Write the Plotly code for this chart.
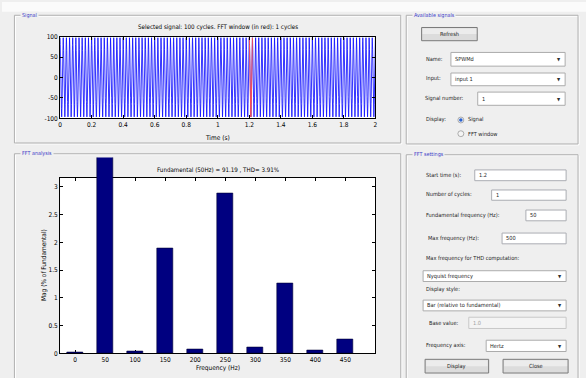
import numpy as np
import plotly.graph_objects as go

W, H = 586, 378

# ---- FFT analysis result (magnitudes in % of fundamental) ----
freqs = [0, 50, 100, 150, 200, 250, 300, 350, 400, 450]
mags = [0.02, 100, 0.04, 1.90, 0.08, 2.88, 0.11, 1.27, 0.05, 0.26]
fundamental_peak = 91.19
thd_pct = 3.91
f0 = 50
n_cycles = 100
fft_start = 1.2
fft_cycles = 1

# ---- tick definitions ----
time_ticks = [0, 0.2, 0.4, 0.6, 0.8, 1.0, 1.2, 1.4, 1.6, 1.8, 2.0]
time_tick_text = ["0", "0.2", "0.4", "0.6", "0.8", "1", "1.2", "1.4", "1.6", "1.8", "2"]
sig_ticks = [-100, -50, 0, 50, 100]
sig_tick_text = ["-100", "-50", "0", "50", "100"]
freq_ticks = [0, 50, 100, 150, 200, 250, 300, 350, 400, 450]
mag_ticks = [0, 0.5, 1, 1.5, 2, 2.5, 3]
mag_tick_text = ["0", "0.5", "1", "1.5", "2", "2.5", "3"]

# ---- GUI texts ----
signal_title = f"Selected signal: {n_cycles} cycles. FFT window (in red): {fft_cycles} cycles"
fft_title = f"Fundamental ({f0}Hz) = {fundamental_peak} , THD= {thd_pct}%"

FONT = "DejaVu Sans Condensed, Liberation Sans Narrow, Liberation Sans, Arial, sans-serif"
BG = "#efefef"
PANEL_BLUE = "#4040c8"
TXT = "#1e1e1e"
LBL = 5.6


def X(px):
    return px / W


def Y(py):
    return 1 - py / H


# time signal rebuilt from its harmonic content
t = np.linspace(0, n_cycles / f0, 20001)
sig = np.full_like(t, fundamental_peak * mags[0] / 100)
for f, m in zip(freqs[1:], mags[1:]):
    sig += fundamental_peak * m / 100 * np.cos(2 * np.pi * f * t)
win = (t >= fft_start) & (t <= fft_start + fft_cycles / f0)

fig = go.Figure()
fig.add_trace(go.Scatter(x=t, y=sig, mode="lines", line=dict(color="#1010ff", width=0.85),
                         xaxis="x", yaxis="y", hoverinfo="skip", showlegend=False))
fig.add_trace(go.Scatter(x=t[win], y=sig[win], mode="lines", line=dict(color="#ff5050", width=1),
                         xaxis="x", yaxis="y", hoverinfo="skip", showlegend=False))
# frame subplot for the spectrum (axes box only)
fig.add_trace(go.Scatter(x=[None], y=[None], xaxis="x2", yaxis="y2", showlegend=False))
# spectrum bars (own subplot so the fundamental can rise above the box)
fig.add_trace(go.Bar(x=freqs, y=mags, width=26, xaxis="x3", yaxis="y3",
                     marker=dict(color="#000080", line=dict(color="#000030", width=0.6)),
                     showlegend=False, hoverinfo="skip"))

ax_left, ax_right = 58.5, 376
sig_top, sig_bot = 33.3, 116.7
fft_top, fft_bot = 177.3, 357
bar_top = 156.7
mag_max = 3.17

tick_font = dict(family=FONT, size=6.5, color="#000")
common = dict(showline=True, linecolor="#000", linewidth=1, mirror="ticks", ticks="inside",
              ticklen=3, tickcolor="#000", showgrid=False, zeroline=False, tickfont=tick_font)

fig.update_layout(
    width=W, height=H, margin=dict(l=0, r=0, t=0, b=0),
    paper_bgcolor=BG, plot_bgcolor="rgba(0,0,0,0)", bargap=0,
    xaxis=dict(domain=[X(ax_left), X(ax_right)], range=[0, 2], tickvals=time_ticks,
               ticktext=time_tick_text, anchor="y", **common),
    yaxis=dict(domain=[Y(sig_bot), Y(sig_top)], range=[-100, 100], tickvals=sig_ticks,
               ticktext=sig_tick_text, anchor="x", **common),
    xaxis2=dict(domain=[X(ax_left), X(ax_right)], range=[-25, 500], tickvals=freq_ticks,
                anchor="y2", **common),
    yaxis2=dict(domain=[Y(fft_bot), Y(fft_top)], range=[0, mag_max], tickvals=mag_ticks,
                ticktext=mag_tick_text, anchor="x2", **common),
    xaxis3=dict(domain=[X(ax_left), X(ax_right)], range=[-25, 500], visible=False, anchor="y3"),
    yaxis3=dict(domain=[Y(fft_bot), Y(bar_top)],
                range=[0, mag_max * (fft_bot - bar_top) / (fft_bot - fft_top)],
                visible=False, anchor="x3"),
)

shapes = []
annotations = []


def rect(x0, y0, x1, y1, fill=None, line="#a0a0a0", lw=1, layer="below"):
    shapes.append(dict(type="rect", xref="paper", yref="paper", x0=X(x0), x1=X(x1),
                       y0=Y(y0), y1=Y(y1), fillcolor=fill or "rgba(0,0,0,0)",
                       line=dict(color=line, width=lw), layer=layer))


def text(x, y, s, size=LBL, color=TXT, anchor="left", bg=None, angle=0):
    annotations.append(dict(x=X(x), y=Y(y), xref="paper", yref="paper", text=s, showarrow=False,
                            xanchor=anchor, yanchor="middle", textangle=angle,
                            font=dict(family=FONT, size=size, color=color),
                            bgcolor=bg or "rgba(0,0,0,0)", borderpad=0))


def panel(x0, y0, x1, y1, title):
    rect(x0 + 1, y0 + 1, x1 + 1, y1 + 1, line="#ffffff")
    rect(x0, y0, x1, y1, line="#b0b0b0")
    text(x0 + 6, y0, "\u2009" + title + "\u2009", size=5.4, color=PANEL_BLUE, bg=BG)


def textbox(x0, y0, x1, y1, s, enabled=True):
    rect(x0, y0, x1, y1, fill="#ffffff" if enabled else "#f4f4f4",
         line="#abadb3" if enabled else "#c8c8c8")
    text(x0 + 3, (y0 + y1) / 2, s, color=TXT if enabled else "#a0a0a0")


def dropdown(x0, y0, x1, y1, s):
    rect(x0, y0, x1, y1, fill="#ffffff", line="#acacac")
    text(x0 + 3, (y0 + y1) / 2, s)
    text(x1 - 6, (y0 + y1) / 2 + 0.5, "\u25BC", size=4.5, color="#303030", anchor="center")


def button(x0, y0, x1, y1, s):
    rect(x0, y0, x1, y1, fill="#dcdcdc", line="#7a7a7a")
    rect(x0 + 1, y0 + 1, x1 - 1, (y0 + y1) / 2, fill="#ececec", line="rgba(0,0,0,0)", lw=0)
    text((x0 + x1) / 2, (y0 + y1) / 2, s, anchor="center")


def radio(cx, cy, s, selected):
    r = 3
    shapes.append(dict(type="circle", xref="paper", yref="paper", x0=X(cx - r), x1=X(cx + r),
                       y0=Y(cy + r), y1=Y(cy - r), fillcolor="#f4f4f4",
                       line=dict(color="#9a9a9a", width=0.8), layer="below"))
    if selected:
        shapes.append(dict(type="circle", xref="paper", yref="paper", x0=X(cx - 1.8),
                           x1=X(cx + 1.8), y0=Y(cy + 1.8), y1=Y(cy - 1.8),
                           fillcolor="#2a62d0", line=dict(width=0), layer="below"))
    text(cx + 6, cy, s)


# window background strip
rect(0, -2, W + 2, 8, fill="#fbfbfb", line="rgba(0,0,0,0)", lw=0)

# white plotting areas
rect(ax_left, sig_top, ax_right, sig_bot, fill="#ffffff", line="rgba(0,0,0,0)", lw=0)
rect(ax_left, fft_top, ax_right, fft_bot, fill="#ffffff", line="rgba(0,0,0,0)", lw=0)

# ---- left panels ----
panel(12.5, 11.5, 401.5, 142, "Signal")
panel(12.5, 153, 401.5, 384, "FFT analysis")
cx = (ax_left + ax_right) / 2
text(cx, 24, signal_title, size=6.2, color="#000", anchor="center")
text(cx, 137, "Time (s)", size=6.5, color="#000", anchor="center")
text(cx, 169.3, fft_title, size=6.2, color="#000", anchor="center")
text(cx, 371.7, "Frequency (Hz)", size=6.5, color="#000", anchor="center")
text(43, 267, "Mag (% of Fundamental)", size=6.5, color="#000", anchor="center", angle=-90)

# ---- Available signals ----
panel(407, 11.5, 580, 143, "Available signals")
button(422.5, 24, 478.5, 37.5, "Refresh")
text(426, 56.5, "Name:")
dropdown(452, 49.5, 567, 63.5, "SPWMd")
text(426, 76.5, "Input:")
dropdown(452, 70.5, 567, 83.5, "input 1")
text(425, 96.5, "Signal number:")
dropdown(479, 90, 567, 103.5, "1")
text(426, 118.5, "Display:")
radio(462, 118.5, "Signal", True)
radio(462, 132.5, "FFT window", False)

# ---- FFT settings ----
panel(407, 154, 580, 384, "FFT settings")
text(426, 175, "Start time (s):")
textbox(476, 169.5, 568, 180.5, f"{fft_start}")
text(426, 195, "Number of cycles:")
textbox(493, 190, 568, 200.5, f"{fft_cycles}")
text(426, 216, "Fundamental frequency (Hz):")
textbox(527.5, 210.5, 568, 221.5, f"{f0}")
text(428, 240, "Max frequency (Hz):")
textbox(503.5, 234, 568, 245, "500")
text(426, 259.5, "Max frequency for THD computation:")
dropdown(424, 272.5, 568, 283.5, "Nyquist frequency")
text(426, 292, "Display style:")
dropdown(424, 302.5, 568, 313.5, "Bar (relative to fundamental)")
text(429, 326, "Base value:")
textbox(470, 320, 568, 331.5, "1.0", enabled=False)
text(426, 349, "Frequency axis:")
dropdown(487.5, 343.5, 568, 355, "Hertz")
button(426, 363, 490, 377, "Display")
button(504.5, 363, 570, 377, "Close")

fig.update_layout(shapes=shapes, annotations=annotations)
fig.write_html("out.html")
